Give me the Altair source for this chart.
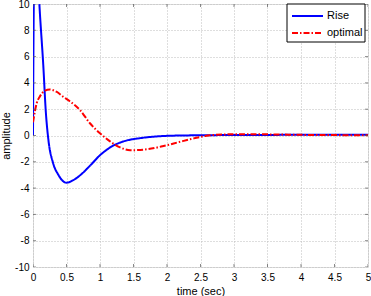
import altair as alt
import pandas as pd

# Rise (blue, solid)
rise_t = [0, 0.01, 0.03, 0.06, 0.095, 0.155, 0.19, 0.23, 0.30, 0.38, 0.43, 0.50, 0.60, 0.72, 0.85, 1.00, 1.17, 1.35, 1.60, 1.85, 2.20, 2.60, 3.00, 4.00, 5.00]
rise_v = [0, 9.0, 15.0, 13.5, 10.0, 5.2, 1.9, -0.34, -2.1, -3.0, -3.38, -3.59, -3.4, -2.95, -2.3, -1.5, -0.85, -0.45, -0.2, -0.07, 0.0, 0.02, 0.04, 0.05, 0.06]

# optimal (red, dash-dot)
opt_t = [0, 0.055, 0.10, 0.18, 0.25, 0.35, 0.45, 0.55, 0.70, 0.85, 1.00, 1.15, 1.30, 1.45, 1.70, 1.95, 2.20, 2.40, 2.57, 2.82, 3.20, 3.60, 4.00, 4.50, 5.00]
opt_v = [1.0, 2.45, 2.95, 3.41, 3.5, 3.33, 2.95, 2.6, 1.94, 0.93, 0.17, -0.45, -0.9, -1.12, -1.05, -0.8, -0.47, -0.22, -0.04, 0.08, 0.1, 0.08, 0.05, 0.03, 0.02]

x_ticks = [0, 0.5, 1, 1.5, 2, 2.5, 3, 3.5, 4, 4.5, 5]
y_ticks = [-10, -8, -6, -4, -2, 0, 2, 4, 6, 8, 10]
series_names = ["Rise", "optimal"]
series_colors = ["#0000ff", "#ff0000"]
series_dash = [[1, 0], [6, 2, 1.5, 2]]

df = pd.concat([
    pd.DataFrame({"t": rise_t, "v": rise_v, "s": "Rise", "o": range(len(rise_t))}),
    pd.DataFrame({"t": opt_t, "v": opt_v, "s": "optimal", "o": range(len(opt_t))}),
])

W, H = 335, 263
FONT = "Liberation Sans"

xscale = alt.Scale(domain=[0, 5], nice=False, zero=False)
yscale = alt.Scale(domain=[-10, 10], nice=False, zero=False)

xaxis = alt.Axis(values=x_ticks, labelExpr="toString(datum.value)", labelOverlap=False,
                 labelFlush=False, title="time (sec)", titleFontWeight="normal",
                 grid=True, gridColor="#bdbdbd", gridDash=[1, 2], tickSize=0,
                 labelPadding=5, titlePadding=3, domain=False)
yaxis = alt.Axis(values=y_ticks, labelExpr="toString(datum.value)", labelOverlap=False,
                 labelFlush=False, title="amplitude", titleFontWeight="normal",
                 titleX=-22, titleY=H / 2, titleBaseline="bottom", titleAngle=270,
                 grid=True, gridColor="#bdbdbd", gridDash=[1, 2], tickSize=0,
                 labelPadding=4, domain=False)

lines = alt.Chart(df).mark_line(clip=True, strokeWidth=2, interpolate="monotone").encode(
    x=alt.X("t:Q", scale=xscale, axis=xaxis),
    y=alt.Y("v:Q", scale=yscale, axis=yaxis),
    color=alt.Color("s:N", scale=alt.Scale(domain=series_names, range=series_colors), legend=None),
    strokeDash=alt.StrokeDash("s:N", scale=alt.Scale(domain=series_names, range=series_dash),
                              legend=None),
    detail="s:N",
    order="o:Q",
)

xt = pd.DataFrame({"t": x_ticks})
yt = pd.DataFrame({"v": y_ticks})
tick_bottom = alt.Chart(xt).mark_tick(clip=True, color="#555", thickness=1, size=6).encode(
    x=alt.X("t:Q", scale=xscale, axis=xaxis), y=alt.value(H))
tick_top = alt.Chart(xt).mark_tick(clip=True, color="#555", thickness=1, size=6).encode(
    x=alt.X("t:Q", scale=xscale, axis=xaxis), y=alt.value(0))
tick_left = alt.Chart(yt).mark_tick(clip=True, color="#555", thickness=1, size=6, orient="horizontal").encode(
    y=alt.Y("v:Q", scale=yscale, axis=yaxis), x=alt.value(0))
tick_right = alt.Chart(yt).mark_tick(clip=True, color="#555", thickness=1, size=6, orient="horizontal").encode(
    y=alt.Y("v:Q", scale=yscale, axis=yaxis), x=alt.value(W))

# legend (drawn in pixel space of the plot area)
leg_df = pd.DataFrame({"s": series_names})
legend_box = alt.Chart(leg_df.head(1)).mark_rect(fill="#ffffff", stroke="#000000", strokeWidth=1).encode(
    x=alt.value(254), x2=alt.value(332), y=alt.value(0), y2=alt.value(38))
legend_parts = [legend_box]
for i, name in enumerate(series_names):
    ypix = 12 + 17 * i
    one = leg_df.iloc[[i]]
    legend_parts.append(
        alt.Chart(one).mark_rule(color=series_colors[i], strokeWidth=2, strokeDash=series_dash[i]).encode(
            x=alt.value(259), x2=alt.value(290), y=alt.value(ypix)))
    legend_parts.append(
        alt.Chart(one).mark_text(align="left", baseline="middle", font=FONT, fontSize=11, color="#000").encode(
            x=alt.value(294), y=alt.value(ypix), text="s:N"))

chart = alt.layer(lines, tick_bottom, tick_top, tick_left, tick_right, *legend_parts).properties(
    width=W, height=H,
    autosize=alt.AutoSizeParams(type="none"),
    padding={"left": 33, "top": 4, "right": 3, "bottom": 29},
).configure_view(stroke="#808080", strokeWidth=1).configure_axis(
    labelFont=FONT, titleFont=FONT, labelFontSize=10.5, titleFontSize=10,
    labelColor="#000", titleColor="#000",
).configure(background="#ffffff")

chart.save("out.html", embed_options={"renderer": "svg", "actions": False})
